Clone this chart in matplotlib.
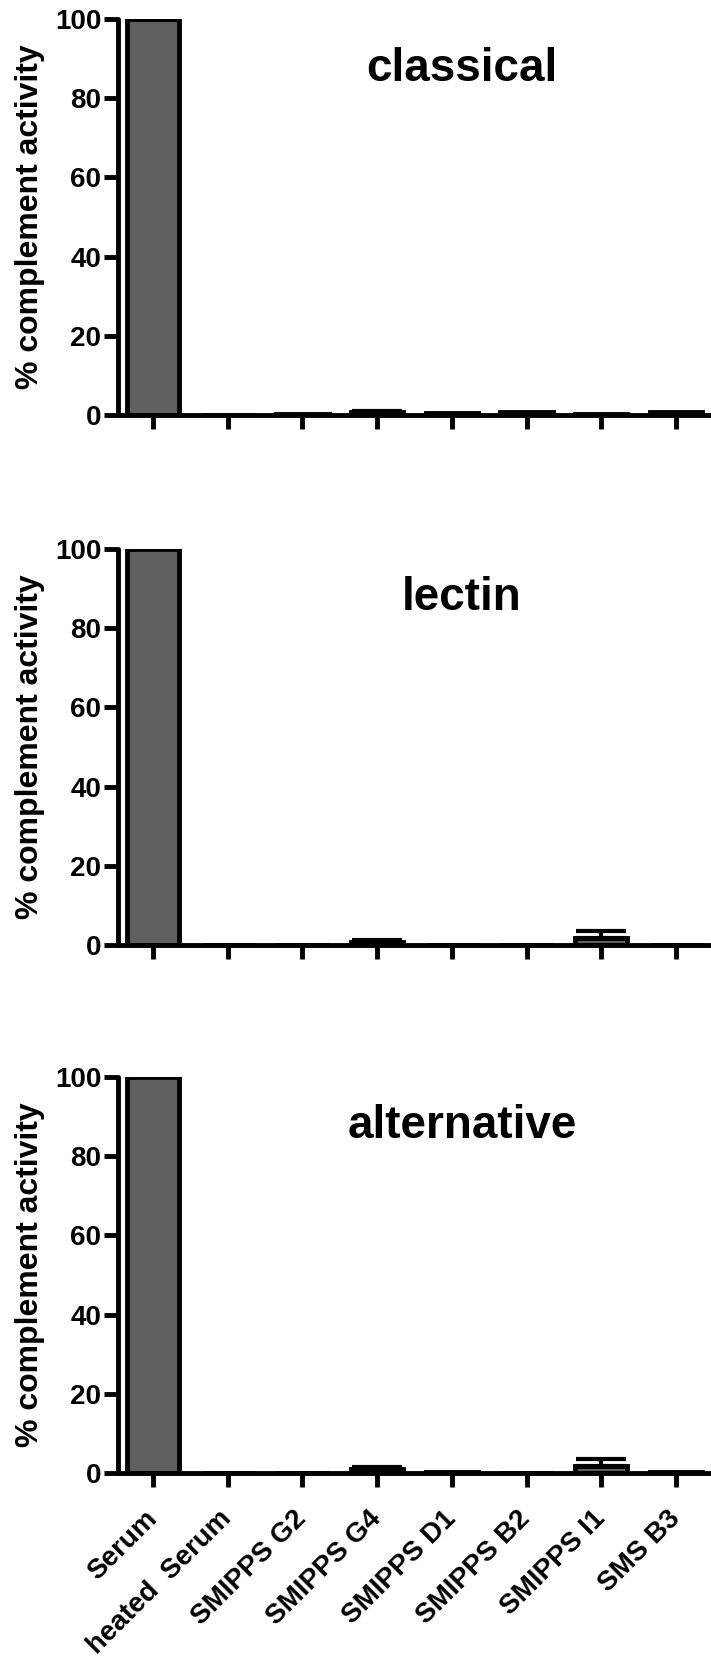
import matplotlib
matplotlib.use("Agg")
import matplotlib.pyplot as plt
import numpy as np

plt.rcParams['font.family'] = ['Liberation Sans', 'DejaVu Sans']
plt.rcParams['font.weight'] = 'bold'

categories = ['Serum', 'heated  Serum', 'SMIPPS G2', 'SMIPPS G4',
              'SMIPPS D1', 'SMIPPS B2', 'SMIPPS I1', 'SMS B3']
titles = ['classical', 'lectin', 'alternative']

# mean % complement activity per pathway
classical = [100, 0.0, 0.3, 0.8, 0.6, 0.7, 0.3, 0.7]
lectin = [100, 0.0, 0.0, 0.8, 0.0, 0.0, 1.8, 0.0]
alternative = [100, 0.0, 0.0, 1.0, 0.3, 0.0, 1.8, 0.3]
means = [classical, lectin, alternative]

# upper error (SD)
classical_err = [0, 0, 0, 0.2, 0, 0, 0, 0]
lectin_err = [0, 0, 0, 0.4, 0, 0, 1.8, 0]
alternative_err = [0, 0, 0, 0.6, 0, 0, 1.8, 0]
errs = [classical_err, lectin_err, alternative_err]

yticks = [0, 20, 40, 60, 80, 100]

W, H = 711, 1661
fig = plt.figure(figsize=(W / 100, H / 100), dpi=100)

# (bottom, top) pixel rows of each panel's y axis
panels = [(415, 19), (945, 549), (1473, 1077)]
left_px, right_px = 118, 711

x = np.arange(len(categories))
lw = 3.5

for i, (bot, top) in enumerate(panels):
    ax = fig.add_axes([left_px / W, 1 - bot / H, (right_px - left_px) / W, (bot - top) / H])
    vals = np.array(means[i])
    err = np.array(errs[i])
    ax.bar(x, vals, width=0.7, color='#606060', edgecolor='black', linewidth=lw, zorder=2)
    has = err > 0
    ax.errorbar(x[has], vals[has], yerr=[np.zeros(has.sum()), err[has]], fmt='none',
                ecolor='black', elinewidth=3, capsize=18, capthick=3, zorder=3)
    ax.set_xlim(-0.468, 7.468)
    ax.set_ylim(0, 100)
    ax.set_yticks(yticks)
    ax.set_xticks(x)
    for s in ['top', 'right']:
        ax.spines[s].set_visible(False)
    for s in ['left', 'bottom']:
        ax.spines[s].set_linewidth(lw)
        ax.spines[s].set_capstyle('round')
    ax.tick_params(axis='both', direction='out', length=10, width=lw, labelsize=20)
    ax.tick_params(axis='y', pad=2)
    ax.set_ylabel('% complement activity', fontsize=23, fontweight='bold', labelpad=7)
    ax.text(0.58, 0.875, titles[i], transform=ax.transAxes, ha='center', va='center',
            fontsize=33, fontweight='bold')
    for lab in ax.get_yticklabels():
        lab.set_fontweight('bold')
    if i == 2:
        ax.set_xticklabels(categories, rotation=45, ha='right', va='center',
                           rotation_mode='anchor', fontsize=20, fontweight='bold')
        ax.tick_params(axis='x', pad=20)
    else:
        ax.set_xticklabels([])

fig.savefig('out.png', dpi=100)
